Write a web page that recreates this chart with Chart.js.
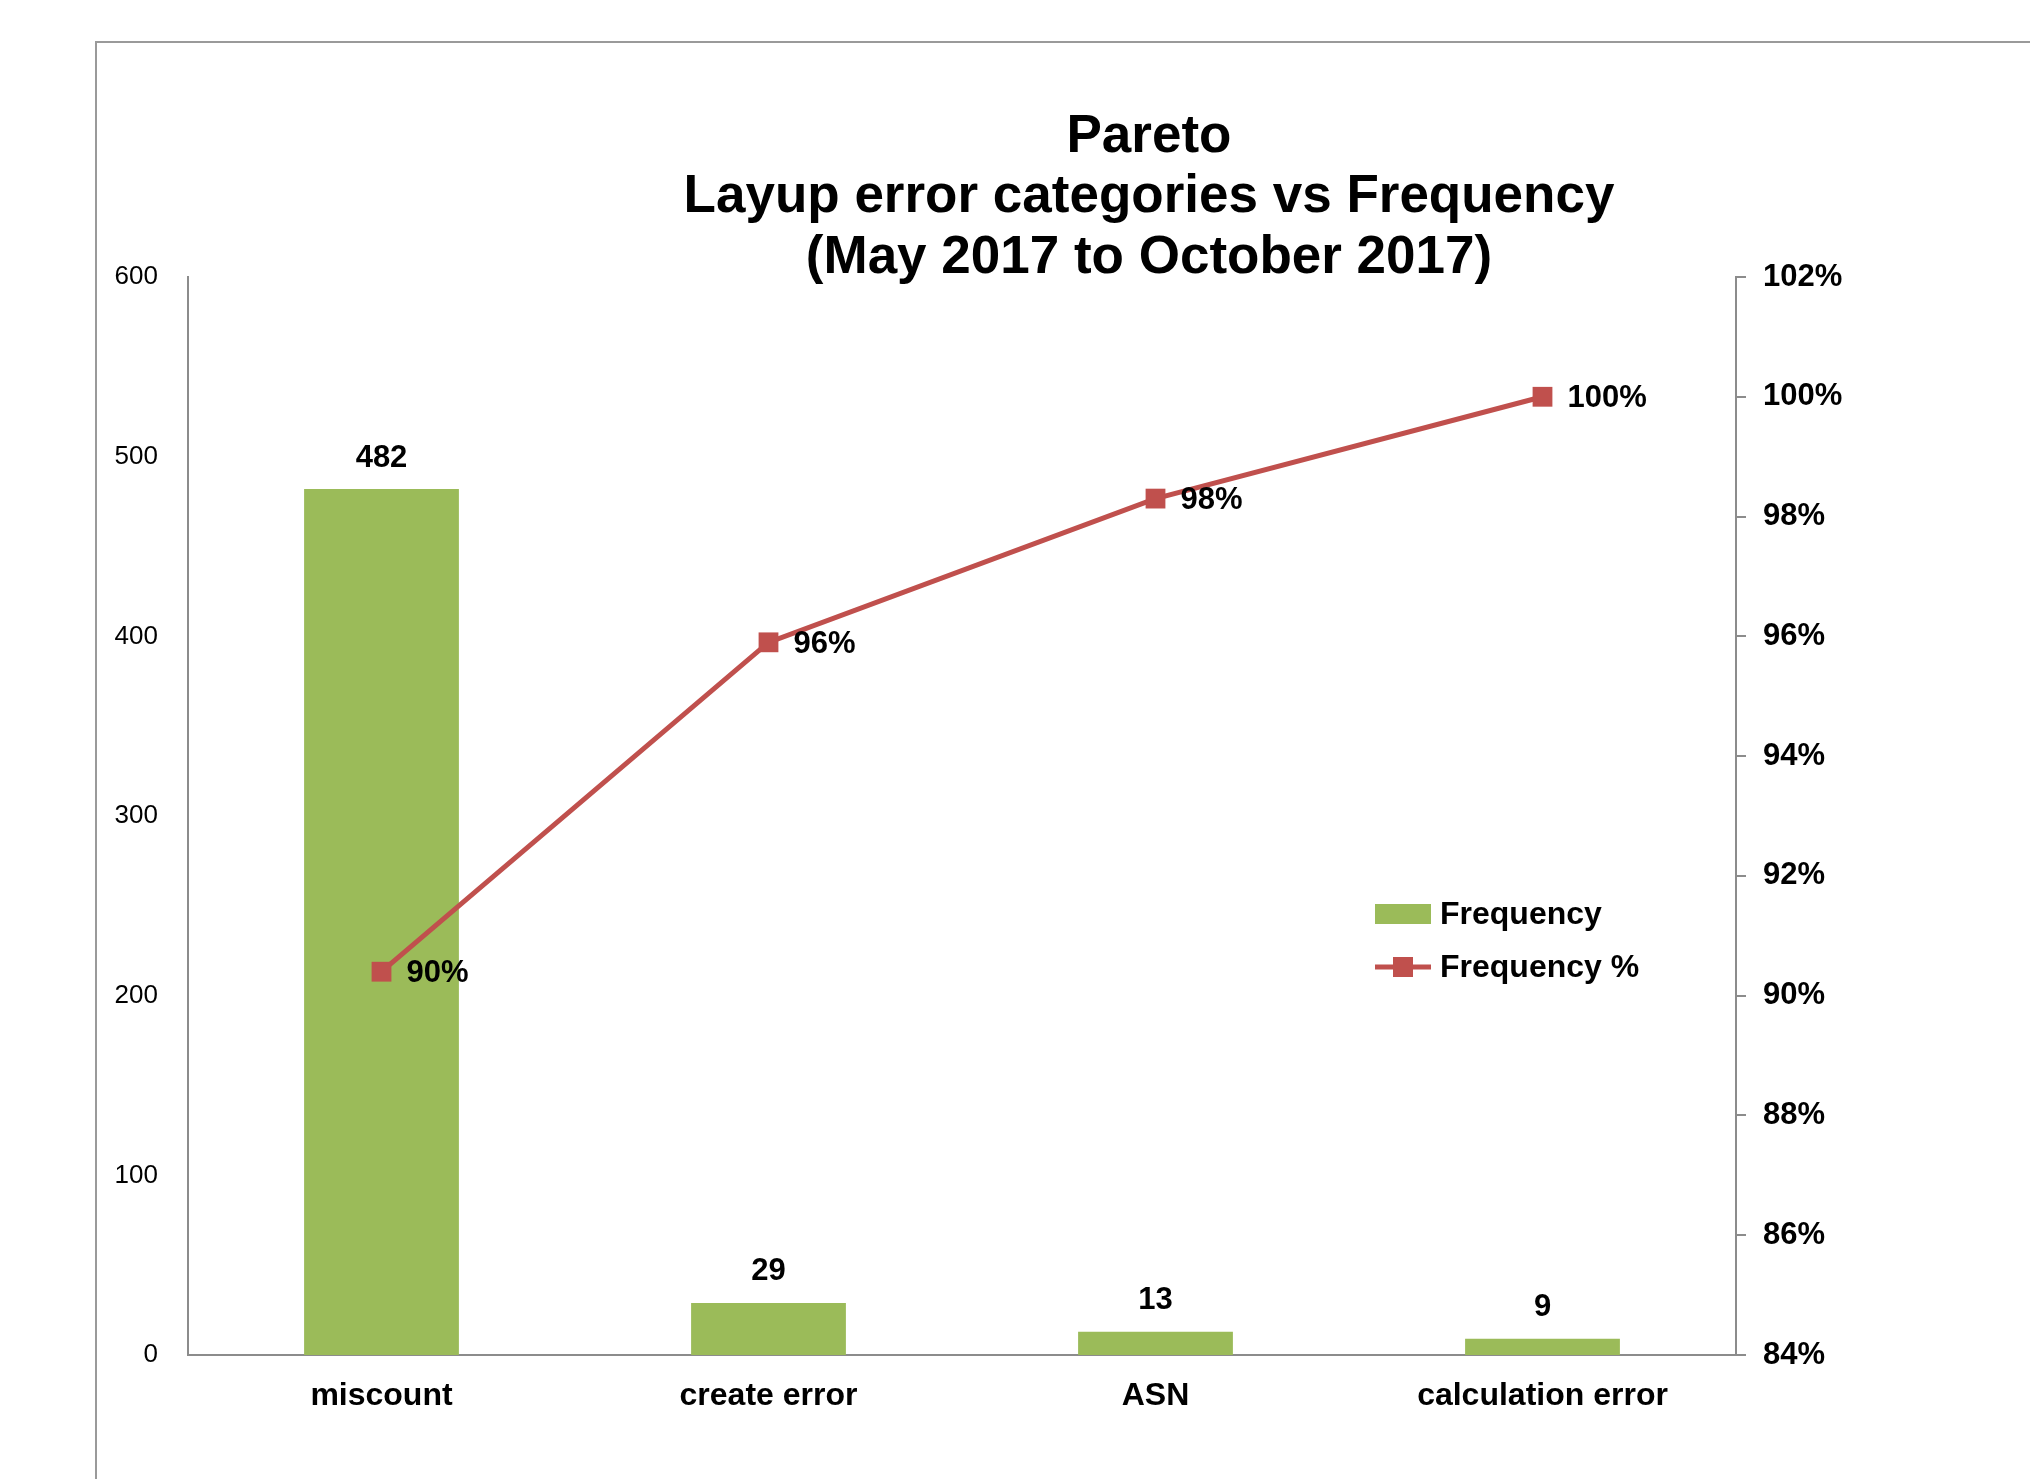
<!DOCTYPE html>
<html><head><meta charset="utf-8">
<script src="https://cdn.jsdelivr.net/npm/chart.js@4.4.0/dist/chart.umd.min.js"></script>
<style>
html,body{margin:0;padding:0;background:#fff;overflow:hidden;width:2030px;height:1479px;}
#frame{position:absolute;left:95px;top:41px;width:2106px;height:1500px;border:2px solid #9a9a9a;background:#fff;}
#c{position:absolute;left:0;top:0;}
</style></head><body>
<div id="frame"><canvas id="c" width="2104" height="1436"></canvas></div>
<script>
const titleLines = ['Pareto', 'Layup error categories vs Frequency', '(May 2017 to October 2017)'];
const categories = ['miscount', 'create error', 'ASN', 'calculation error'];
const frequency = [482, 29, 13, 9];
const frequencyPct = [90.4, 95.9, 98.3, 100.0];
const pctLabels = ['90%', '96%', '98%', '100%'];
const leftTicks = [0, 100, 200, 300, 400, 500, 600];
const rightTicks = [84, 86, 88, 90, 92, 94, 96, 98, 100, 102];
const seriesNames = ['Frequency', 'Frequency %'];

const FONT = '"Liberation Sans", Arial, sans-serif';
const GREEN = '#9BBB59';
const RED = '#C0504D';
const AXIS = '#8c8c8c';

const overlay = {
  id: 'overlay',
  afterDatasetsDraw(chart) {
    const ctx = chart.ctx;
    ctx.save();
    ctx.fillStyle = '#000';
    ctx.font = 'bold 31px ' + FONT;
    ctx.textAlign = 'center';
    ctx.textBaseline = 'middle';
    chart.getDatasetMeta(0).data.forEach((el, i) => {
      ctx.fillText(String(frequency[i]), el.x, el.y - 31);
    });
    ctx.textAlign = 'left';
    chart.getDatasetMeta(1).data.forEach((el, i) => {
      ctx.fillText(pctLabels[i], el.x + 25, el.y + 2);
    });
    ctx.restore();
  },
  afterDraw(chart) {
    const ctx = chart.ctx;
    ctx.save();
    // title
    ctx.fillStyle = '#000';
    ctx.font = 'bold 53px ' + FONT;
    ctx.textAlign = 'center';
    ctx.textBaseline = 'middle';
    const cx = chart.width / 2;
    const ys = [94, 154, 215];
    titleLines.forEach((t, i) => ctx.fillText(t, cx, ys[i]));
    // legend
    const lx = chart.chartArea.left + 1187;
    const y1 = 871, y2 = 924;
    ctx.fillStyle = GREEN;
    ctx.fillRect(lx, y1 - 10, 56, 20);
    ctx.strokeStyle = RED;
    ctx.lineWidth = 5;
    ctx.beginPath();
    ctx.moveTo(lx, y2); ctx.lineTo(lx + 56, y2);
    ctx.stroke();
    ctx.fillStyle = RED;
    ctx.fillRect(lx + 28 - 10, y2 - 10, 20, 20);
    ctx.fillStyle = '#000';
    ctx.font = 'bold 32px ' + FONT;
    ctx.textAlign = 'left';
    ctx.fillText(seriesNames[0], lx + 65, y1 + 1);
    ctx.fillText(seriesNames[1], lx + 65, y2 + 1);
    ctx.restore();
  }
};

new Chart(document.getElementById('c'), {
  type: 'bar',
  data: {
    labels: categories,
    datasets: [
      {
        label: seriesNames[0],
        data: frequency,
        backgroundColor: GREEN,
        borderWidth: 0,
        barPercentage: 0.4,
        categoryPercentage: 1.0,
        yAxisID: 'y',
        order: 2
      },
      {
        label: seriesNames[1],
        type: 'line',
        data: frequencyPct,
        borderColor: RED,
        backgroundColor: RED,
        borderWidth: 5,
        pointStyle: 'rect',
        pointRadius: 14,
        pointHoverRadius: 14,
        pointBorderWidth: 0,
        tension: 0,
        yAxisID: 'y1',
        order: 1
      }
    ]
  },
  options: {
    responsive: false,
    animation: false,
    layout: { padding: { top: 234, left: 0, right: 0, bottom: 0 } },
    plugins: {
      legend: { display: false },
      title: { display: false },
      tooltip: { enabled: false }
    },
    scales: {
      x: {
        grid: { display: false, drawTicks: false },
        border: { display: true, color: AXIS, width: 2 },
        ticks: { color: '#000', padding: 22, font: { family: FONT, size: 32, weight: 'bold' } },
        afterFit(s) { s.height = 124; }
      },
      y: {
        position: 'left',
        min: leftTicks[0],
        max: leftTicks[leftTicks.length - 1],
        grid: { display: false, drawTicks: false },
        border: { display: true, color: AXIS, width: 2 },
        ticks: { stepSize: leftTicks[1] - leftTicks[0], color: '#000', padding: 30, font: { family: FONT, size: 26 } },
        afterFit(s) { s.width = 91; }
      },
      y1: {
        position: 'right',
        min: rightTicks[0],
        max: rightTicks[rightTicks.length - 1],
        grid: { display: true, drawOnChartArea: false, drawTicks: true, tickLength: 10, color: AXIS, lineWidth: 2 },
        border: { display: true, color: AXIS, width: 2 },
        ticks: { stepSize: rightTicks[1] - rightTicks[0], color: '#000', padding: 17,
                 font: { family: FONT, size: 31, weight: 'bold' },
                 callback: v => v + '%' },
        afterFit(s) { s.width = 465; }
      }
    }
  },
  plugins: [overlay]
});
</script>
</body></html>
